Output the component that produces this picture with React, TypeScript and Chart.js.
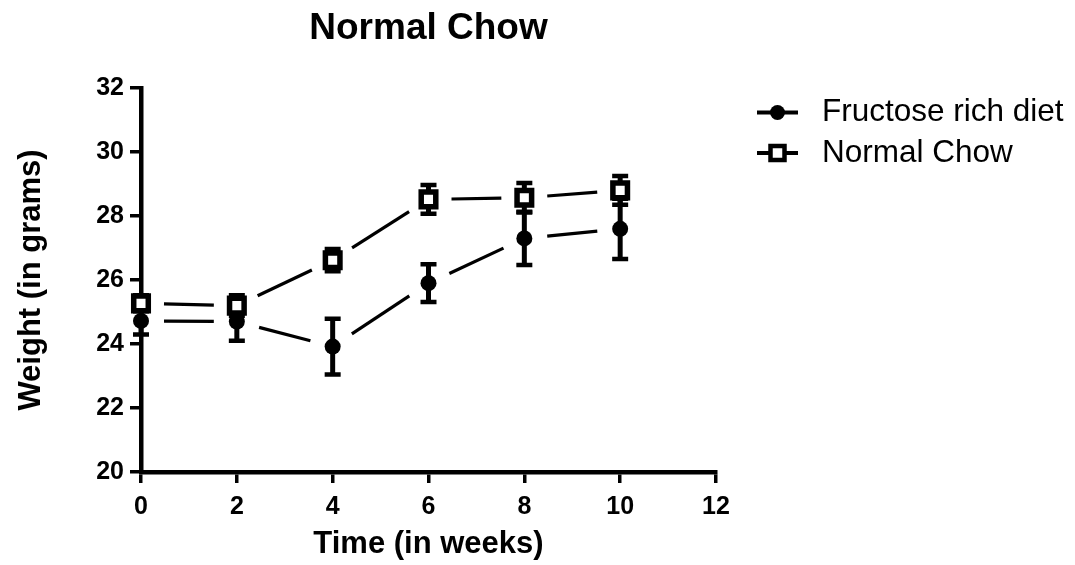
import React, { useEffect, useRef } from "react";
import { Chart, registerables } from "chart.js";

Chart.register(...registerables);

// ---- data ----
const weeks = [0, 2, 4, 6, 8, 10];
const fructoseMean = [24.72, 24.7, 23.92, 25.9, 27.3, 27.6];
const fructoseSem = [0.42, 0.6, 0.87, 0.59, 0.83, 0.94];
const chowMean = [25.27, 25.2, 26.62, 28.52, 28.57, 28.8];
const chowSem = [0.25, 0.32, 0.35, 0.45, 0.46, 0.45];
const xTicks = [0, 2, 4, 6, 8, 10, 12];
const yTicks = [20, 22, 24, 26, 28, 30, 32];
const seriesLabels = ["Fructose rich diet", "Normal Chow"];
const chartTitle = "Normal Chow";
const xTitle = "Time (in weeks)";
const yTitle = "Weight (in grams)";
const semSeries = [fructoseSem, chowSem];

const FONT = "'Liberation Sans', Arial, Helvetica, sans-serif";
const GAP = 23;

const errorLinePlugin = {
  id: "errorLines",
  beforeDatasetsDraw(chart: any) {
    const ctx = chart.ctx;
    const xs = chart.scales.x;
    const ys = chart.scales.y;
    ctx.save();
    ctx.strokeStyle = "#000";
    chart.data.datasets.forEach((ds: any, di: number) => {
      const pts = ds.data.map((p: any) => ({
        x: xs.getPixelForValue(p.x),
        y: ys.getPixelForValue(p.y),
      }));
      ctx.lineWidth = 3.2;
      ctx.lineCap = "butt";
      for (let i = 0; i < pts.length - 1; i++) {
        const a = pts[i];
        const b = pts[i + 1];
        const dx = b.x - a.x;
        const dy = b.y - a.y;
        const len = Math.hypot(dx, dy);
        if (len <= 2 * GAP) continue;
        const ux = dx / len;
        const uy = dy / len;
        ctx.beginPath();
        ctx.moveTo(a.x + ux * GAP, a.y + uy * GAP);
        ctx.lineTo(b.x - ux * GAP, b.y - uy * GAP);
        ctx.stroke();
      }
      const sem = semSeries[di];
      ds.data.forEach((p: any, i: number) => {
        const x = xs.getPixelForValue(p.x);
        const yTop = ys.getPixelForValue(p.y + sem[i]);
        const yBot = ys.getPixelForValue(p.y - sem[i]);
        ctx.lineWidth = 5;
        ctx.beginPath();
        ctx.moveTo(x, yTop);
        ctx.lineTo(x, yBot);
        ctx.stroke();
        ctx.lineWidth = 4.5;
        ctx.beginPath();
        ctx.moveTo(x - 8, yTop);
        ctx.lineTo(x + 8, yTop);
        ctx.moveTo(x - 8, yBot);
        ctx.lineTo(x + 8, yBot);
        ctx.stroke();
      });
    });
    ctx.restore();
  },
};

const sideLegendPlugin = {
  id: "sideLegend",
  afterDraw(chart: any) {
    const ctx = chart.ctx;
    const rows = [112.5, 153];
    chart.data.datasets.forEach((ds: any, i: number) => {
      const y = rows[i];
      const cx = 777.5;
      ctx.save();
      ctx.strokeStyle = "#000";
      ctx.lineWidth = 4;
      ctx.beginPath();
      ctx.moveTo(757, y);
      ctx.lineTo(798, y);
      ctx.stroke();
      if (ds.pointStyle === "circle") {
        ctx.fillStyle = "#000";
        ctx.beginPath();
        ctx.arc(cx, y, 7.5, 0, Math.PI * 2);
        ctx.fill();
      } else {
        ctx.fillStyle = "#fff";
        ctx.lineWidth = 4.5;
        ctx.beginPath();
        ctx.rect(cx - 7, y - 7, 14, 14);
        ctx.fill();
        ctx.stroke();
      }
      ctx.fillStyle = "#000";
      ctx.font = `31.5px ${FONT}`;
      ctx.textAlign = "left";
      ctx.textBaseline = "middle";
      ctx.fillText(ds.label, 822, y);
      ctx.restore();
    });
  },
};

export default function App() {
  const canvasRef = useRef<HTMLCanvasElement | null>(null);

  useEffect(() => {
    const canvas = canvasRef.current;
    if (!canvas) return;
    const axisGrid = {
      display: true,
      drawOnChartArea: false,
      drawTicks: true,
      tickLength: 11,
      tickWidth: 3.5,
      tickColor: "#000",
      lineWidth: 3.5,
      color: "#000",
    };
    const axisBorder = { display: true, width: 4.5, color: "#000" };
    const tickFont = { family: FONT, size: 25, weight: "bold" as const };
    const titleFont = { family: FONT, size: 31, weight: "bold" as const };

    const chart = new Chart(canvas, {
      type: "line",
      data: {
        datasets: [
          {
            label: seriesLabels[0],
            data: weeks.map((w, i) => ({ x: w, y: fructoseMean[i] })),
            showLine: false,
            pointStyle: "circle",
            pointRadius: 8,
            pointBackgroundColor: "#000",
            pointBorderColor: "#000",
            pointBorderWidth: 0,
            order: 1,
            clip: false,
          },
          {
            label: seriesLabels[1],
            data: weeks.map((w, i) => ({ x: w, y: chowMean[i] })),
            showLine: false,
            pointStyle: "rect",
            pointRadius: 10.3,
            pointBackgroundColor: "#fff",
            pointBorderColor: "#000",
            pointBorderWidth: 5.5,
            order: 0,
            clip: false,
          },
        ] as any,
      },
      options: {
        animation: false,
        responsive: false,
        devicePixelRatio: 1,
        events: [],
        layout: { padding: { left: 0, right: 359, top: 0, bottom: 0 } },
        plugins: {
          legend: { display: false },
          tooltip: { enabled: false },
          title: {
            display: true,
            text: chartTitle,
            fullSize: false,
            color: "#000",
            font: { family: FONT, size: 37, weight: "bold" },
            padding: { top: 6.8, bottom: 36.8 },
          },
        },
        scales: {
          x: {
            type: "linear",
            min: 0,
            max: 12,
            afterBuildTicks: (s: any) => {
              s.ticks = xTicks.map((v) => ({ value: v }));
            },
            afterFit: (s: any) => {
              s.height = 93;
            },
            grid: axisGrid,
            border: axisBorder,
            ticks: {
              color: "#000",
              font: tickFont,
              padding: 9,
              maxRotation: 0,
              autoSkip: false,
            },
            title: {
              display: true,
              text: xTitle,
              color: "#000",
              font: titleFont,
              padding: { top: 0, bottom: 1.5 },
            },
          },
          y: {
            type: "linear",
            min: 20,
            max: 32,
            afterBuildTicks: (s: any) => {
              s.ticks = yTicks.map((v) => ({ value: v }));
            },
            afterFit: (s: any) => {
              s.width = 141;
            },
            grid: axisGrid,
            border: axisBorder,
            ticks: {
              color: "#000",
              font: tickFont,
              padding: 6,
              autoSkip: false,
            },
            title: {
              display: true,
              text: yTitle,
              color: "#000",
              font: titleFont,
              padding: { top: 12.4, bottom: 0 },
            },
          },
        } as any,
      },
      plugins: [errorLinePlugin, sideLegendPlugin],
    });
    return () => chart.destroy();
  }, []);

  return (
    <div
      style={{
        position: "fixed",
        left: 0,
        top: 0,
        width: 1075,
        height: 565,
        background: "#fff",
      }}
    >
      <canvas
        ref={canvasRef}
        width={1075}
        height={565}
        style={{ width: 1075, height: 565, display: "block" }}
      />
    </div>
  );
}
